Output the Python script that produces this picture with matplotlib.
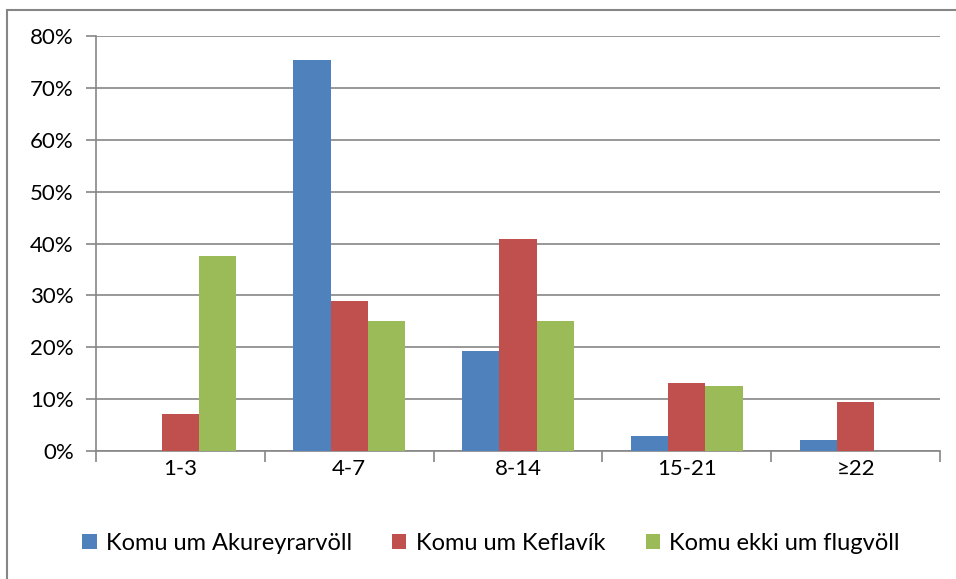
import matplotlib
matplotlib.use("Agg")
import matplotlib.pyplot as plt
import numpy as np
from matplotlib.patches import Rectangle
from matplotlib.ticker import FuncFormatter, MultipleLocator

categories = ["1-3", "4-7", "8-14", "15-21", "≥22"]
series_names = ["Komu um Akureyrarvöll", "Komu um Keflavík", "Komu ekki um flugvöll"]
akureyri = [0.0, 75.3, 19.3, 2.9, 2.1]
keflavik = [7.2, 28.9, 40.9, 13.1, 9.5]
ekki = [37.5, 25.0, 25.0, 12.5, 0.0]
colors = ["#4F81BD", "#C0504D", "#9BBB59"]

plt.rcParams['font.family'] = ['Lato', 'DejaVu Sans']

fig = plt.figure(figsize=(9.56, 5.79), dpi=100)
ax = fig.add_axes([96/956, 1-451/579, (940-96)/956, (451-36)/579])

x = np.arange(len(categories))
w = 0.22
handles = []
for i, (vals, c, name) in enumerate(zip([akureyri, keflavik, ekki], colors, series_names)):
    b = ax.bar(x + (i-1)*w, vals, width=w, color=c, label=name, zorder=3)
    handles.append(b)

ax.set_xlim(-0.5, len(categories)-0.5)
ax.set_ylim(0, 80)
ax.yaxis.set_major_locator(MultipleLocator(10))
ax.yaxis.set_major_formatter(FuncFormatter(lambda v, p: f"{int(round(v))}%"))
ax.grid(axis='y', color='#868686', linewidth=1.2, zorder=0)
ax.set_xticks(np.arange(-0.5, len(categories)), minor=False)
ax.set_xticklabels([])
ax.set_xticks(x, minor=True)
ax.set_xticklabels(categories, minor=True)
ax.tick_params(axis='x', which='major', length=8, width=1.2, color='#868686', direction='out')
ax.tick_params(axis='x', which='minor', length=0, pad=6, labelsize=16)
ax.tick_params(axis='y', length=7, width=1.2, color='#868686', labelsize=16, pad=9)
for s in ['top', 'right']:
    ax.spines[s].set_visible(False)
for s in ['left', 'bottom']:
    ax.spines[s].set_color('#868686')
    ax.spines[s].set_linewidth(1.2)

fig.legend(handles=handles, labels=series_names, loc='center', bbox_to_anchor=(491/956, 1-543/579),
           ncol=3, frameon=False, fontsize=17, handlelength=0.6, handleheight=0.6,
           handletextpad=0.4, columnspacing=1.7)

fig.patches.append(Rectangle((7/956, -0.1), 1.2, 1-10/579+0.1, transform=fig.transFigure,
                             fill=False, edgecolor='#868686', linewidth=1.5))

fig.savefig("out.png", dpi=100)
